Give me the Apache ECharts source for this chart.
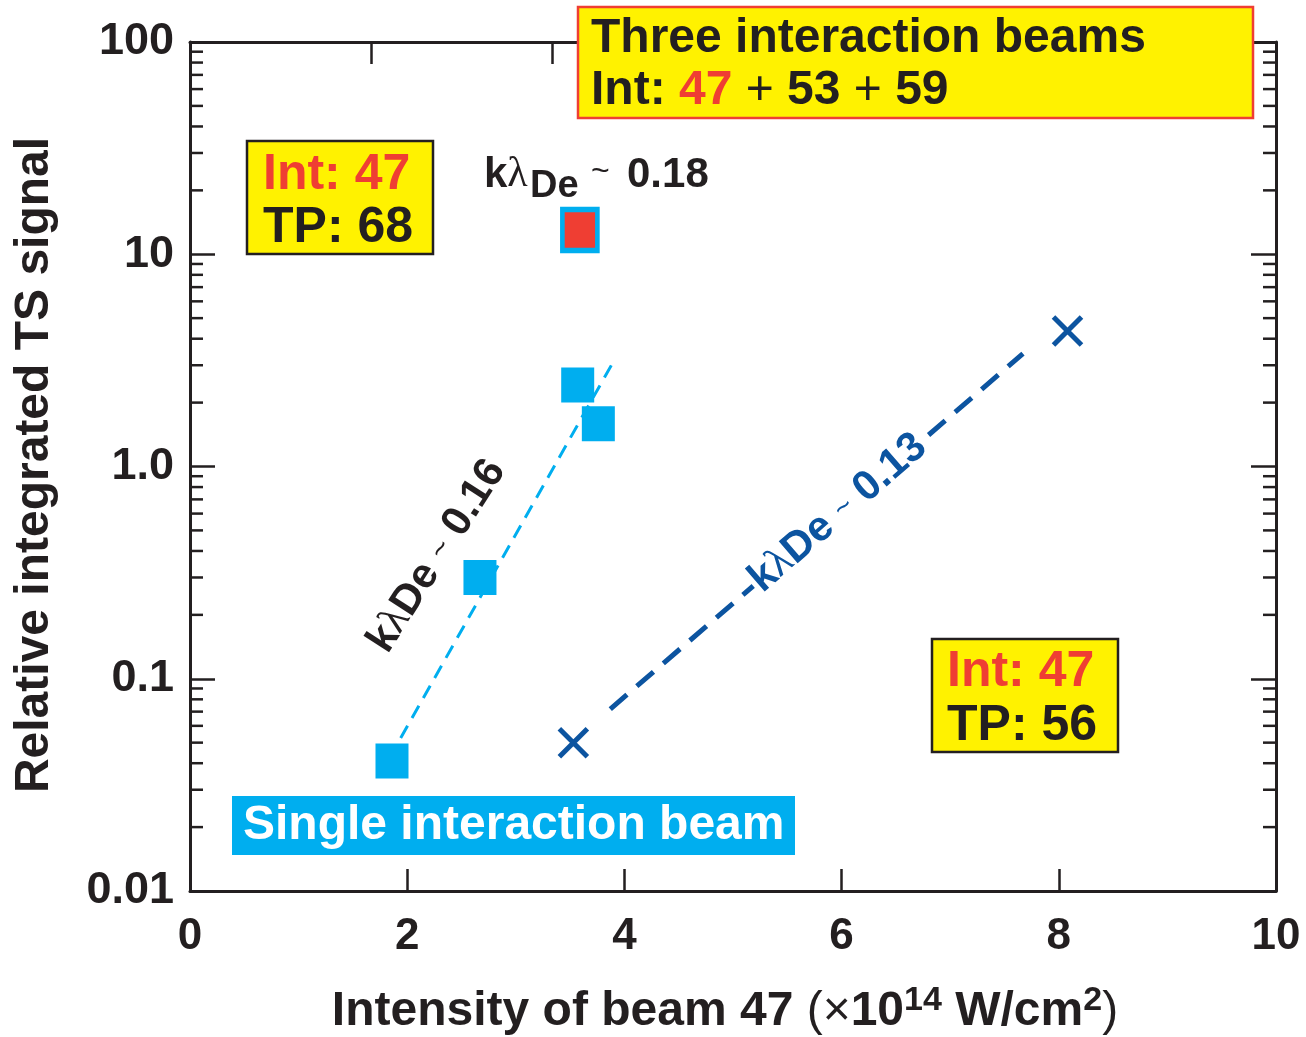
<!DOCTYPE html>
<html><head><meta charset="utf-8">
<script src="https://cdn.jsdelivr.net/npm/echarts@6/dist/echarts.min.js"></script>
<style>html,body{margin:0;padding:0;background:#fff}#c{width:1306px;height:1037px}</style>
</head><body><div id="c"></div>
<script>
// ---- data ----
const singleBeam = [[1.86, 0.041], [2.67, 0.30], [3.57, 2.42], [3.76, 1.59]];
const threeBeam = [[3.59, 13.0]];
const tp56Beam = [[3.53, 0.050], [8.08, 4.35]];
const fitSingle = [[1.94, 0.0526], [3.88, 3.0]];
const fitTP56 = [[3.87, 0.072], [7.67, 3.4]];
const yTickLabels = ['0.01', '0.1', '1.0', '10', '100'];
const minorMultipliers = [2, 3, 4, 5, 6, 7, 8, 9];
const decades = [0.01, 0.1, 1, 10];

const INK = '#231f20', CYAN = '#00aeef', BLUE = '#0c54a0', RED = '#ef3e33', YEL = '#fff200';
const FONT = '"Liberation Sans", Arial, sans-serif';
const SERIF = '"Liberation Serif", serif';

const minorTickData = [];
decades.forEach(d => minorMultipliers.forEach(m => minorTickData.push([0, m * d])));

const chart = echarts.init(document.getElementById('c'), null, {renderer: 'canvas'});

function kLabel(color, size, tail) {
  return {
    text: '{k|k}{l|λ}{n|De }{t|~}{n| ' + tail + '}',
    rich: {
      k: {fontSize: size, fontWeight: 'bold', fill: color, fontFamily: FONT},
      l: {fontSize: size, fill: color, fontFamily: SERIF},
      n: {fontSize: size, fontWeight: 'bold', fill: color, fontFamily: FONT},
      t: {fontSize: size * 0.7, fill: color, fontFamily: FONT}
    }
  };
}

const axisLineStyle = {lineStyle: {color: INK, width: 3}, onZero: false};
const opt = {
  animation: false,
  backgroundColor: '#fff',
  grid: {left: 190, right: 30, top: 42, bottom: 146, containLabel: false},
  xAxis: [
    {type: 'value', min: 0, max: 10, interval: 2, position: 'bottom',
     axisLine: axisLineStyle,
     axisTick: {inside: true, length: 22, lineStyle: {color: INK, width: 2.5}},
     axisLabel: {fontSize: 44, fontWeight: 'bold', color: INK, fontFamily: FONT, margin: 24, showMinLabel: true, showMaxLabel: true},
     splitLine: {show: false}},
    {type: 'value', min: 0, max: 6, interval: 1, position: 'top',
     axisLine: axisLineStyle,
     axisTick: {inside: true, length: 22, lineStyle: {color: INK, width: 2.5}},
     axisLabel: {show: false}, splitLine: {show: false}}
  ],
  yAxis: [
    {type: 'log', logBase: 10, min: 0.01, max: 100, position: 'left',
     axisLine: axisLineStyle,
     axisTick: {inside: true, length: 25, lineStyle: {color: INK, width: 2.5}},
     axisLabel: {fontSize: 45, fontWeight: 'bold', color: INK, fontFamily: FONT, margin: 16,
       formatter: v => yTickLabels[Math.round(Math.log10(v)) + 2]},
     splitLine: {show: false}},
    {type: 'log', logBase: 10, min: 0.01, max: 100, position: 'right',
     axisLine: axisLineStyle,
     axisTick: {inside: true, length: 25, lineStyle: {color: INK, width: 2.5}},
     axisLabel: {show: false}, splitLine: {show: false}}
  ],
  series: [
    {type: 'custom', clip: false, silent: true, z: 1, data: minorTickData,
     renderItem: (params, api) => {
       const cs = params.coordSys;
       const y = api.coord([0, api.value(1)])[1];
       const st = {stroke: INK, lineWidth: 2.5};
       return {type: 'group', children: [
         {type: 'line', shape: {x1: cs.x, y1: y, x2: cs.x + 13, y2: y}, style: st},
         {type: 'line', shape: {x1: cs.x + cs.width - 13, y1: y, x2: cs.x + cs.width, y2: y}, style: st}
       ]};
     }},
    {type: 'line', data: fitSingle, showSymbol: false, z: 2,
     lineStyle: {color: CYAN, width: 3, type: [14, 9]}},
    {type: 'line', data: fitTP56, showSymbol: false, z: 2,
     lineStyle: {color: BLUE, width: 5, type: [22, 13]}},
    {type: 'scatter', data: singleBeam, symbol: 'rect', symbolSize: [33, 35], z: 3,
     itemStyle: {color: CYAN, opacity: 1}},
    {type: 'scatter', data: threeBeam, symbol: 'rect', symbolSize: [35, 41], z: 3,
     itemStyle: {color: RED, borderColor: CYAN, borderWidth: 5, opacity: 1}},
    {type: 'scatter', data: tp56Beam, symbol: 'path://M0,0L10,10M10,0L0,10', symbolSize: 28, z: 3,
     itemStyle: {color: 'transparent', borderColor: BLUE, borderWidth: 5, opacity: 1}}
  ],
  graphic: [
    // axis titles
    {type: 'text', x: 725, y: 1010, z: 50, style: {
      text: '{a|Intensity of beam 47 }{p|(×}{a|10}{s|14}{a| W/cm}{s|2}{p|)}',
      align: 'center', verticalAlign: 'middle',
      rich: {a: {fontSize: 48, fontWeight: 'bold', fill: INK, fontFamily: FONT, lineHeight: 52, verticalAlign: 'bottom'},
             p: {fontSize: 48, fill: INK, fontFamily: FONT, lineHeight: 52, verticalAlign: 'bottom'},
             s: {fontSize: 34, fontWeight: 'bold', fill: INK, fontFamily: FONT, lineHeight: 36, verticalAlign: 'top'}}}},
    {type: 'text', x: 35, y: 465, rotation: Math.PI / 2, z: 50, style: {
      text: 'Relative integrated TS signal', align: 'center', verticalAlign: 'middle',
      font: 'bold 48px ' + FONT, fill: INK}},
    // Int 47 / TP 68 box
    {type: 'rect', shape: {x: 247, y: 141, width: 186, height: 113}, z: 40,
     style: {fill: YEL, stroke: INK, lineWidth: 2.5}},
    {type: 'text', x: 263, y: 175, z: 41, style: {text: 'Int: 47', verticalAlign: 'middle',
      font: 'bold 50px ' + FONT, fill: RED}},
    {type: 'text', x: 263, y: 228, z: 41, style: {text: 'TP: 68', verticalAlign: 'middle',
      font: 'bold 50px ' + FONT, fill: INK}},
    // Int 47 / TP 56 box
    {type: 'rect', shape: {x: 932, y: 639, width: 186, height: 113}, z: 40,
     style: {fill: YEL, stroke: INK, lineWidth: 2.5}},
    {type: 'text', x: 947, y: 672, z: 41, style: {text: 'Int: 47', verticalAlign: 'middle',
      font: 'bold 50px ' + FONT, fill: RED}},
    {type: 'text', x: 947, y: 726, z: 41, style: {text: 'TP: 56', verticalAlign: 'middle',
      font: 'bold 50px ' + FONT, fill: INK}},
    // Three interaction beams box
    {type: 'rect', shape: {x: 578, y: 7, width: 675, height: 111}, z: 40,
     style: {fill: YEL, stroke: RED, lineWidth: 2.5}},
    {type: 'text', x: 591, y: 39, z: 41, style: {text: 'Three interaction beams', verticalAlign: 'middle',
      font: 'bold 48px ' + FONT, fill: INK}},
    {type: 'text', x: 591, y: 91, z: 41, style: {
      text: '{b|Int: }{r|47}{p| + }{b|53}{p| + }{b|59}', verticalAlign: 'middle',
      rich: {b: {fontSize: 48, fontWeight: 'bold', fill: INK, fontFamily: FONT},
             p: {fontSize: 48, fill: INK, fontFamily: FONT},
             r: {fontSize: 48, fontWeight: 'bold', fill: RED, fontFamily: FONT}}}},
    // Single interaction beam
    {type: 'rect', shape: {x: 232, y: 796, width: 563, height: 59}, z: 40,
     style: {fill: CYAN}},
    {type: 'text', x: 243, y: 826, z: 41, style: {text: 'Single interaction beam', verticalAlign: 'middle',
      font: 'bold 48px ' + FONT, fill: '#fff'}},
    // k lambda_De ~ 0.18 (pieces so that De sits as a subscript)
    {type: 'text', x: 484, y: 175, z: 41, style: {
      text: '{k|k}{l|λ}', verticalAlign: 'middle',
      rich: {k: {fontSize: 42, fontWeight: 'bold', fill: INK, fontFamily: FONT},
             l: {fontSize: 42, fill: INK, fontFamily: SERIF}}}},
    {type: 'text', x: 530, y: 187, z: 41, style: {text: 'De', verticalAlign: 'middle',
      font: 'bold 38px ' + FONT, fill: INK}},
    {type: 'text', x: 591, y: 172, z: 41, style: {text: '~', verticalAlign: 'middle',
      font: '32px ' + FONT, fill: INK}},
    {type: 'text', x: 627, y: 175, z: 41, style: {text: '0.18', verticalAlign: 'middle',
      font: 'bold 42px ' + FONT, fill: INK}},
    {type: 'text', x: 437, y: 556, rotation: 1.0, z: 41,
     style: Object.assign({align: 'center', verticalAlign: 'middle'}, kLabel(INK, 42, '0.16'))},
    {type: 'text', x: 838, y: 513, rotation: 0.712, z: 41,
     style: Object.assign({align: 'center', verticalAlign: 'middle', backgroundColor: '#fff', padding: [0, 2]},
       kLabel(BLUE, 42, '0.13'))}
  ]
};
chart.setOption(opt);
</script>
</body></html>
